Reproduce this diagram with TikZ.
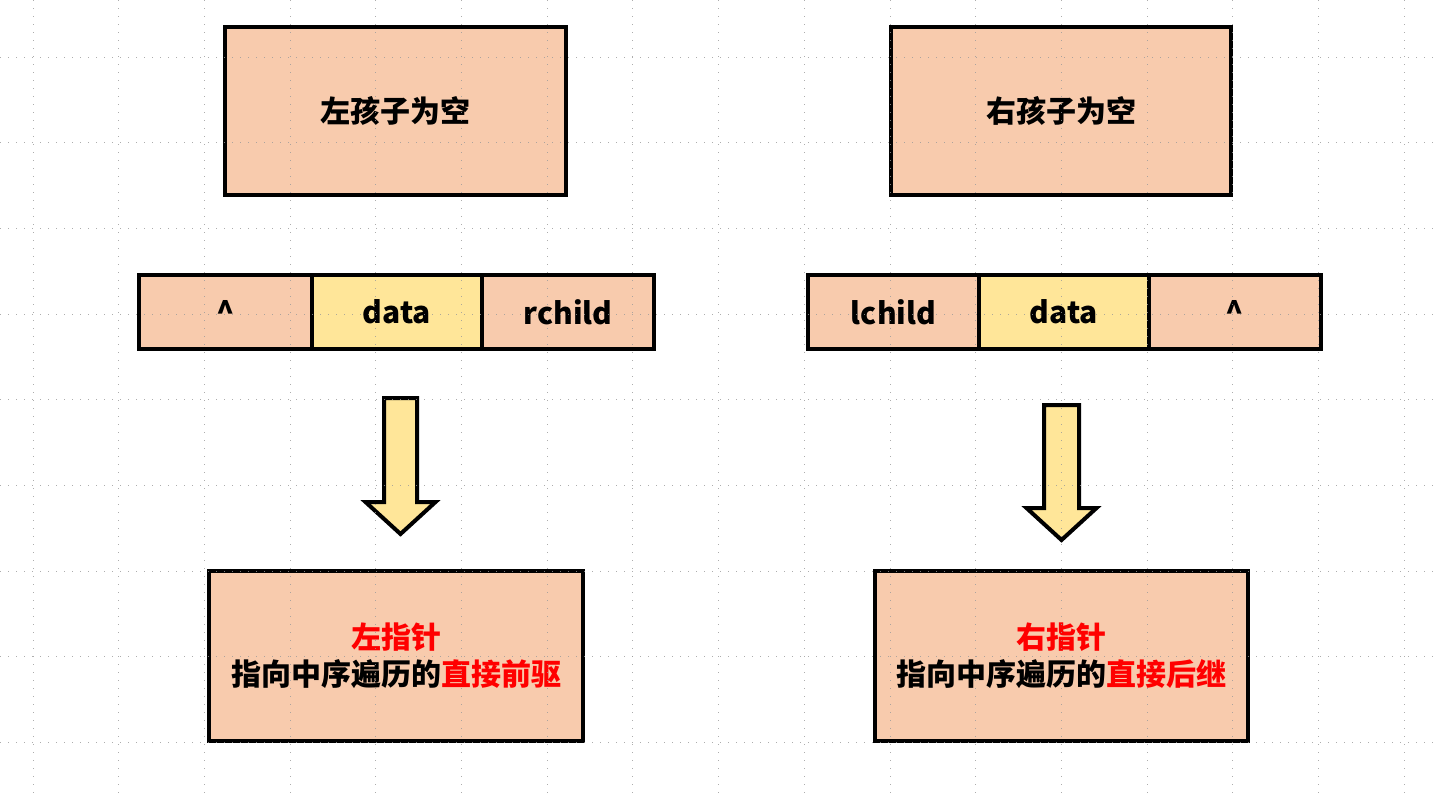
\documentclass[tikz,border=0pt]{standalone}
\usepackage{fontspec}
\setmainfont{Noto Sans CJK SC}
\definecolor{peach}{HTML}{F8CBAD}
\definecolor{lemon}{HTML}{FFE699}
\definecolor{redtxt}{HTML}{FF0000}
\begin{document}
\begin{tikzpicture}[x=1pt,y=-1pt,
  box/.style={draw=black,line width=4pt,fill=peach,rectangle,inner sep=0pt,
    font=\fontsize{30}{37}\selectfont\bfseries,align=center},
  cell/.style={box,minimum height=74pt},
  blockarrow/.style={draw=black,line width=4pt,fill=lemon,line join=miter},
  gridline/.style={draw=gray!80,line width=1pt,dash pattern=on 1pt off 7pt,opacity=0.8}]
\useasboundingbox (0,0) rectangle (1440,795);
\fill[white] (0,0) rectangle (1440,795);
% top boxes
\node[box,minimum width=341pt,minimum height=168pt] (tl) at (395.5,111) {左孩子为空};
\node[box,minimum width=340pt,minimum height=168pt] (tr) at (1061,111) {右孩子为空};
% row left
\node[cell,minimum width=173pt] (l1) at (225.5,312) {\^{}};
\node[cell,minimum width=170pt,fill=lemon] (l2) at (397,312) {data};
\node[cell,minimum width=172pt] (l3) at (568,312) {rchild};
% row right
\node[cell,minimum width=171pt] (r1) at (893.5,312) {lchild};
\node[cell,minimum width=170pt,fill=lemon] (r2) at (1064,312) {data};
\node[cell,minimum width=172pt] (r3) at (1235,312) {\^{}};
% bottom boxes
\node[box,minimum width=374pt,minimum height=170pt] (bl) at (396,656)
  {\textcolor{redtxt}{左指针}\\指向中序遍历的\textcolor{redtxt}{直接前驱}};
\node[box,minimum width=373pt,minimum height=170pt] (br) at (1061.5,656)
  {\textcolor{redtxt}{右指针}\\指向中序遍历的\textcolor{redtxt}{直接后继}};
% block arrows
\draw[blockarrow] (384,398) -- (417,398) -- (417,502) -- (435.5,502) -- (400.5,534)
  -- (365.5,502) -- (384,502) -- cycle;
\draw[blockarrow] (1044,405) -- (1079,405) -- (1079,508) -- (1096.5,508) -- (1061.5,540)
  -- (1026.5,508) -- (1044,508) -- cycle;
% dotted grid
\foreach \k in {0,...,16} {
  \draw[gridline] ({33+85.7*\k},0) -- ({33+85.7*\k},795);
}
\foreach \k in {0,...,8} {
  \draw[gridline] (0,{57+85.7*\k}) -- (1440,{57+85.7*\k});
}
\end{tikzpicture}
\end{document}
